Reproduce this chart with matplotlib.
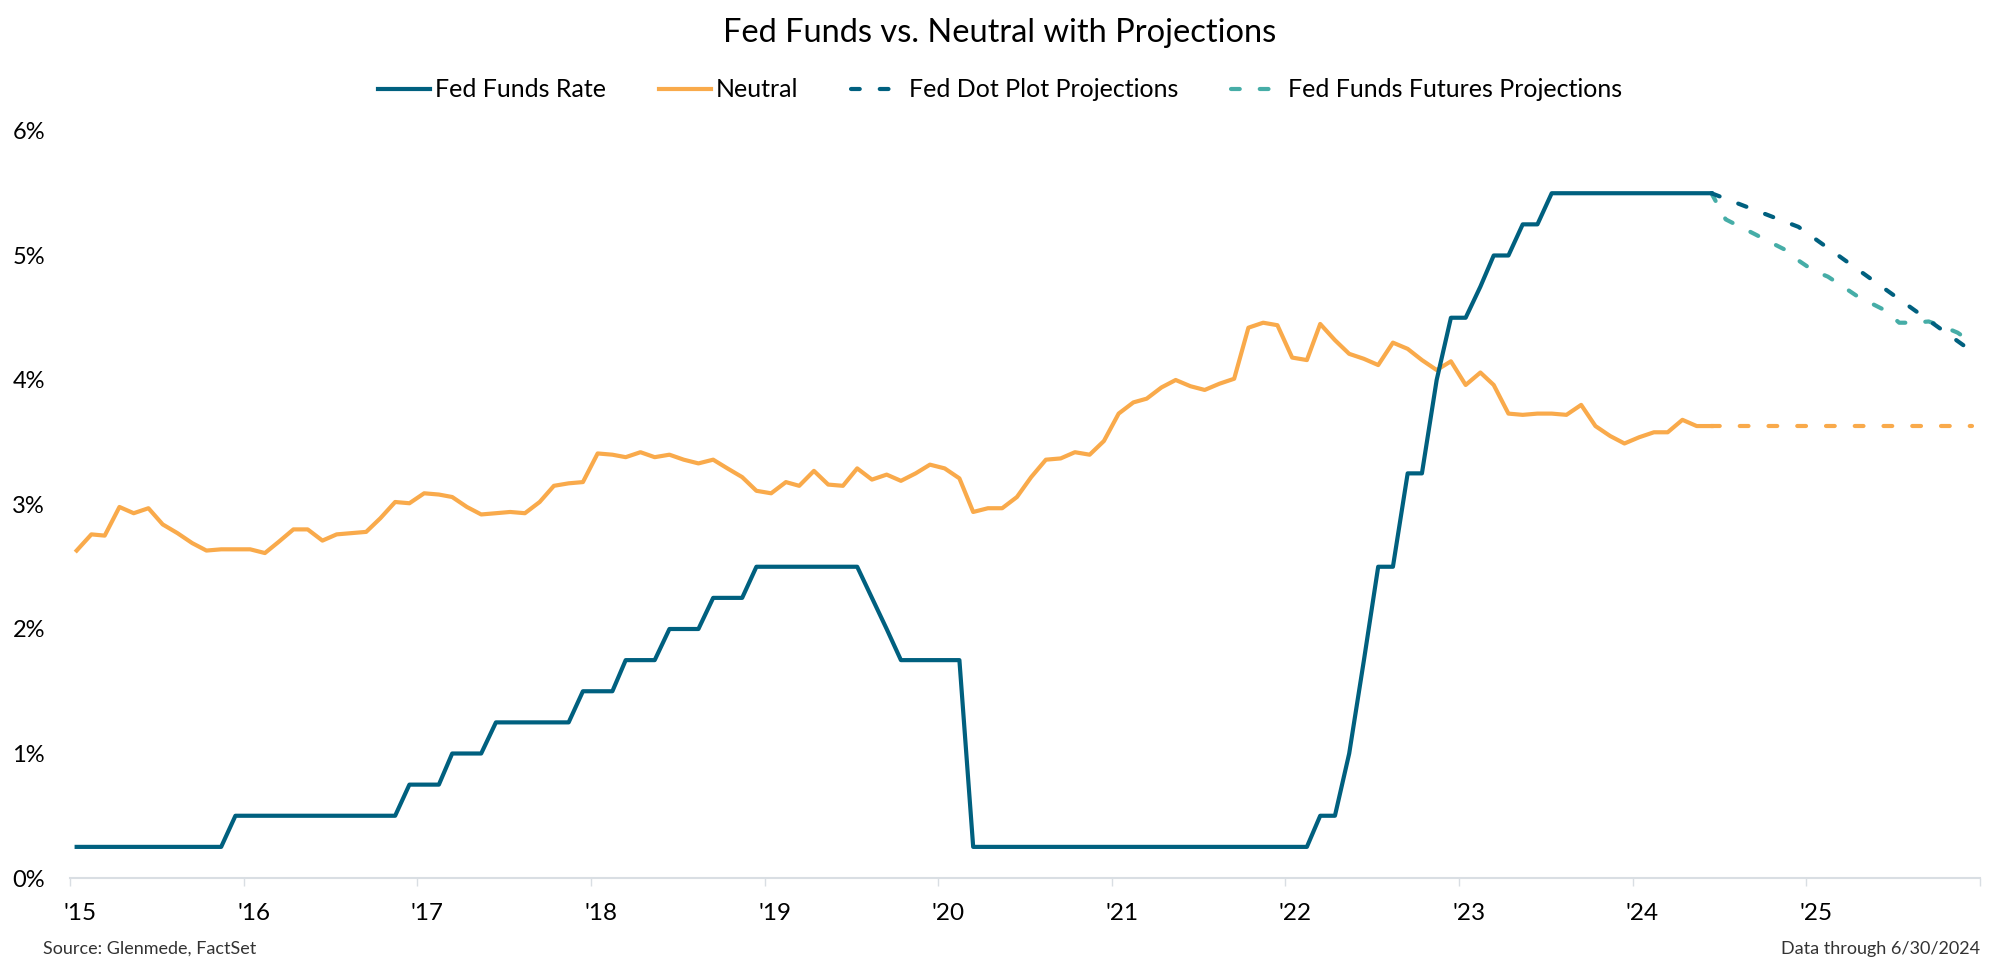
import matplotlib.pyplot as plt
import matplotlib.dates as mdates
from matplotlib.ticker import FuncFormatter
from matplotlib.transforms import ScaledTranslation
import pandas as pd

plt.rcParams['font.family'] = ['Lato', 'DejaVu Sans']

# monthly history, Jan 2015 - Jun 2024 (plotted mid-month)
months = pd.date_range('2015-01-01', '2024-06-01', freq='MS') + pd.Timedelta(days=14)

fed_funds = [
    0.25, 0.25, 0.25, 0.25, 0.25, 0.25, 0.25, 0.25, 0.25, 0.25, 0.25, 0.50,  # 2015
    0.50, 0.50, 0.50, 0.50, 0.50, 0.50, 0.50, 0.50, 0.50, 0.50, 0.50, 0.75,  # 2016
    0.75, 0.75, 1.00, 1.00, 1.00, 1.25, 1.25, 1.25, 1.25, 1.25, 1.25, 1.50,  # 2017
    1.50, 1.50, 1.75, 1.75, 1.75, 2.00, 2.00, 2.00, 2.25, 2.25, 2.25, 2.50,  # 2018
    2.50, 2.50, 2.50, 2.50, 2.50, 2.50, 2.50, 2.25, 2.00, 1.75, 1.75, 1.75,  # 2019
    1.75, 1.75, 0.25, 0.25, 0.25, 0.25, 0.25, 0.25, 0.25, 0.25, 0.25, 0.25,  # 2020
    0.25, 0.25, 0.25, 0.25, 0.25, 0.25, 0.25, 0.25, 0.25, 0.25, 0.25, 0.25,  # 2021
    0.25, 0.25, 0.50, 0.50, 1.00, 1.75, 2.50, 2.50, 3.25, 3.25, 4.00, 4.50,  # 2022
    4.50, 4.75, 5.00, 5.00, 5.25, 5.25, 5.50, 5.50, 5.50, 5.50, 5.50, 5.50,  # 2023
    5.50, 5.50, 5.50, 5.50, 5.50, 5.50,                                      # 2024
]

neutral = [
    2.63, 2.76, 2.75, 2.98, 2.93, 2.97, 2.84, 2.77, 2.69, 2.63, 2.64, 2.64,
    2.64, 2.61, 2.70, 2.80, 2.80, 2.71, 2.76, 2.77, 2.78, 2.89, 3.02, 3.01,
    3.09, 3.08, 3.06, 2.98, 2.92, 2.93, 2.94, 2.93, 3.02, 3.15, 3.17, 3.18,
    3.41, 3.40, 3.38, 3.42, 3.38, 3.40, 3.36, 3.33, 3.36, 3.29, 3.22, 3.11,
    3.09, 3.18, 3.15, 3.27, 3.16, 3.15, 3.29, 3.20, 3.24, 3.19, 3.25, 3.32,
    3.29, 3.21, 2.94, 2.97, 2.97, 3.06, 3.22, 3.36, 3.37, 3.42, 3.40, 3.51,
    3.73, 3.82, 3.85, 3.94, 4.00, 3.95, 3.92, 3.97, 4.01, 4.42, 4.46, 4.44,
    4.18, 4.16, 4.45, 4.32, 4.21, 4.17, 4.12, 4.30, 4.25, 4.16, 4.08, 4.15,
    3.96, 4.06, 3.96, 3.73, 3.72, 3.73, 3.73, 3.72, 3.80, 3.63, 3.55, 3.49,
    3.54, 3.58, 3.58, 3.68, 3.63, 3.63,
]

# projections, Jun 2024 - Dec 2025
proj_months = pd.date_range('2024-06-01', '2025-12-01', freq='MS') + pd.Timedelta(days=14)
futures_proj = [5.50, 5.29, 5.23, 5.17, 5.11, 5.05, 4.96,
                4.88, 4.83, 4.76, 4.68, 4.62, 4.56, 4.46, 4.46, 4.47, 4.43, 4.38, 4.30]

dot_dates = pd.to_datetime(['2024-06-15', '2024-12-15', '2025-12-15'])
dot_proj = [5.50, 5.23, 4.23]

neutral_proj_dates = pd.to_datetime(['2024-06-15', '2025-12-15'])
neutral_proj = [3.63, 3.63]

y_ticks = [0, 1, 2, 3, 4, 5, 6]

# colours
c_fed = '#00607F'
c_neutral = '#F9AA4B'
c_futures = '#46ADA7'
c_axis = '#D9DEE3'

dash = (0, (2.1, 4.8))

fig = plt.figure(figsize=(20, 9.76), dpi=100)
ax = fig.add_axes([0.035, 0.1004, 0.955, 0.7654])

l_neu, = ax.plot(months, neutral, color=c_neutral, lw=3, label='Neutral')
ax.plot(neutral_proj_dates, neutral_proj, color=c_neutral, lw=3, ls=dash,
        dash_capstyle='round')
l_fut, = ax.plot(proj_months, futures_proj, color=c_futures, lw=3, ls=dash,
                 dash_capstyle='round', label='Fed Funds Futures Projections')
l_dot, = ax.plot(dot_dates, dot_proj, color=c_fed, lw=3, ls=dash,
                 dash_capstyle='round', label='Fed Dot Plot Projections')
l_fed, = ax.plot(months, fed_funds, color=c_fed, lw=3, label='Fed Funds Rate')

ax.set_ylim(0, 6)
ax.set_yticks(y_ticks)
ax.set_yticklabels(['%d%%' % t for t in y_ticks])
ax.tick_params(axis='y', length=0, pad=18, labelsize=17)

ax.set_xlim(pd.Timestamp('2015-01-01'), pd.Timestamp('2026-01-01'))
ax.xaxis.set_major_locator(mdates.YearLocator())


def year_label(x, pos):
    yr = mdates.num2date(x).year
    if yr > 2025:
        return ''
    return "'%02d" % (yr % 100)


ax.xaxis.set_major_formatter(FuncFormatter(year_label))
ax.tick_params(axis='x', length=6, width=1, color=c_axis, pad=12, labelsize=17.5)
for lbl in ax.get_xticklabels():
    lbl.set_transform(lbl.get_transform() + ScaledTranslation(0.1, 0, fig.dpi_scale_trans))

for s in ['top', 'right', 'left']:
    ax.spines[s].set_visible(False)
ax.spines['bottom'].set_color(c_axis)
ax.spines['bottom'].set_linewidth(1.5)

fig.text(0.5, 0.966, 'Fed Funds vs. Neutral with Projections', ha='center', va='center',
         fontsize=23.5)
fig.legend(handles=[l_fed, l_neu, l_dot, l_fut], loc='center', bbox_to_anchor=(0.5, 0.908),
           ncol=4, frameon=False, fontsize=18, handlelength=2.1, handletextpad=0.2,
           columnspacing=2.1)

fig.text(0.0215, 0.028, 'Source: Glenmede, FactSet', ha='left', va='center',
         fontsize=13, color='#333333')
fig.text(0.99, 0.028, 'Data through 6/30/2024', ha='right', va='center',
         fontsize=13, color='#333333')

fig.savefig('out.png', dpi=100)
